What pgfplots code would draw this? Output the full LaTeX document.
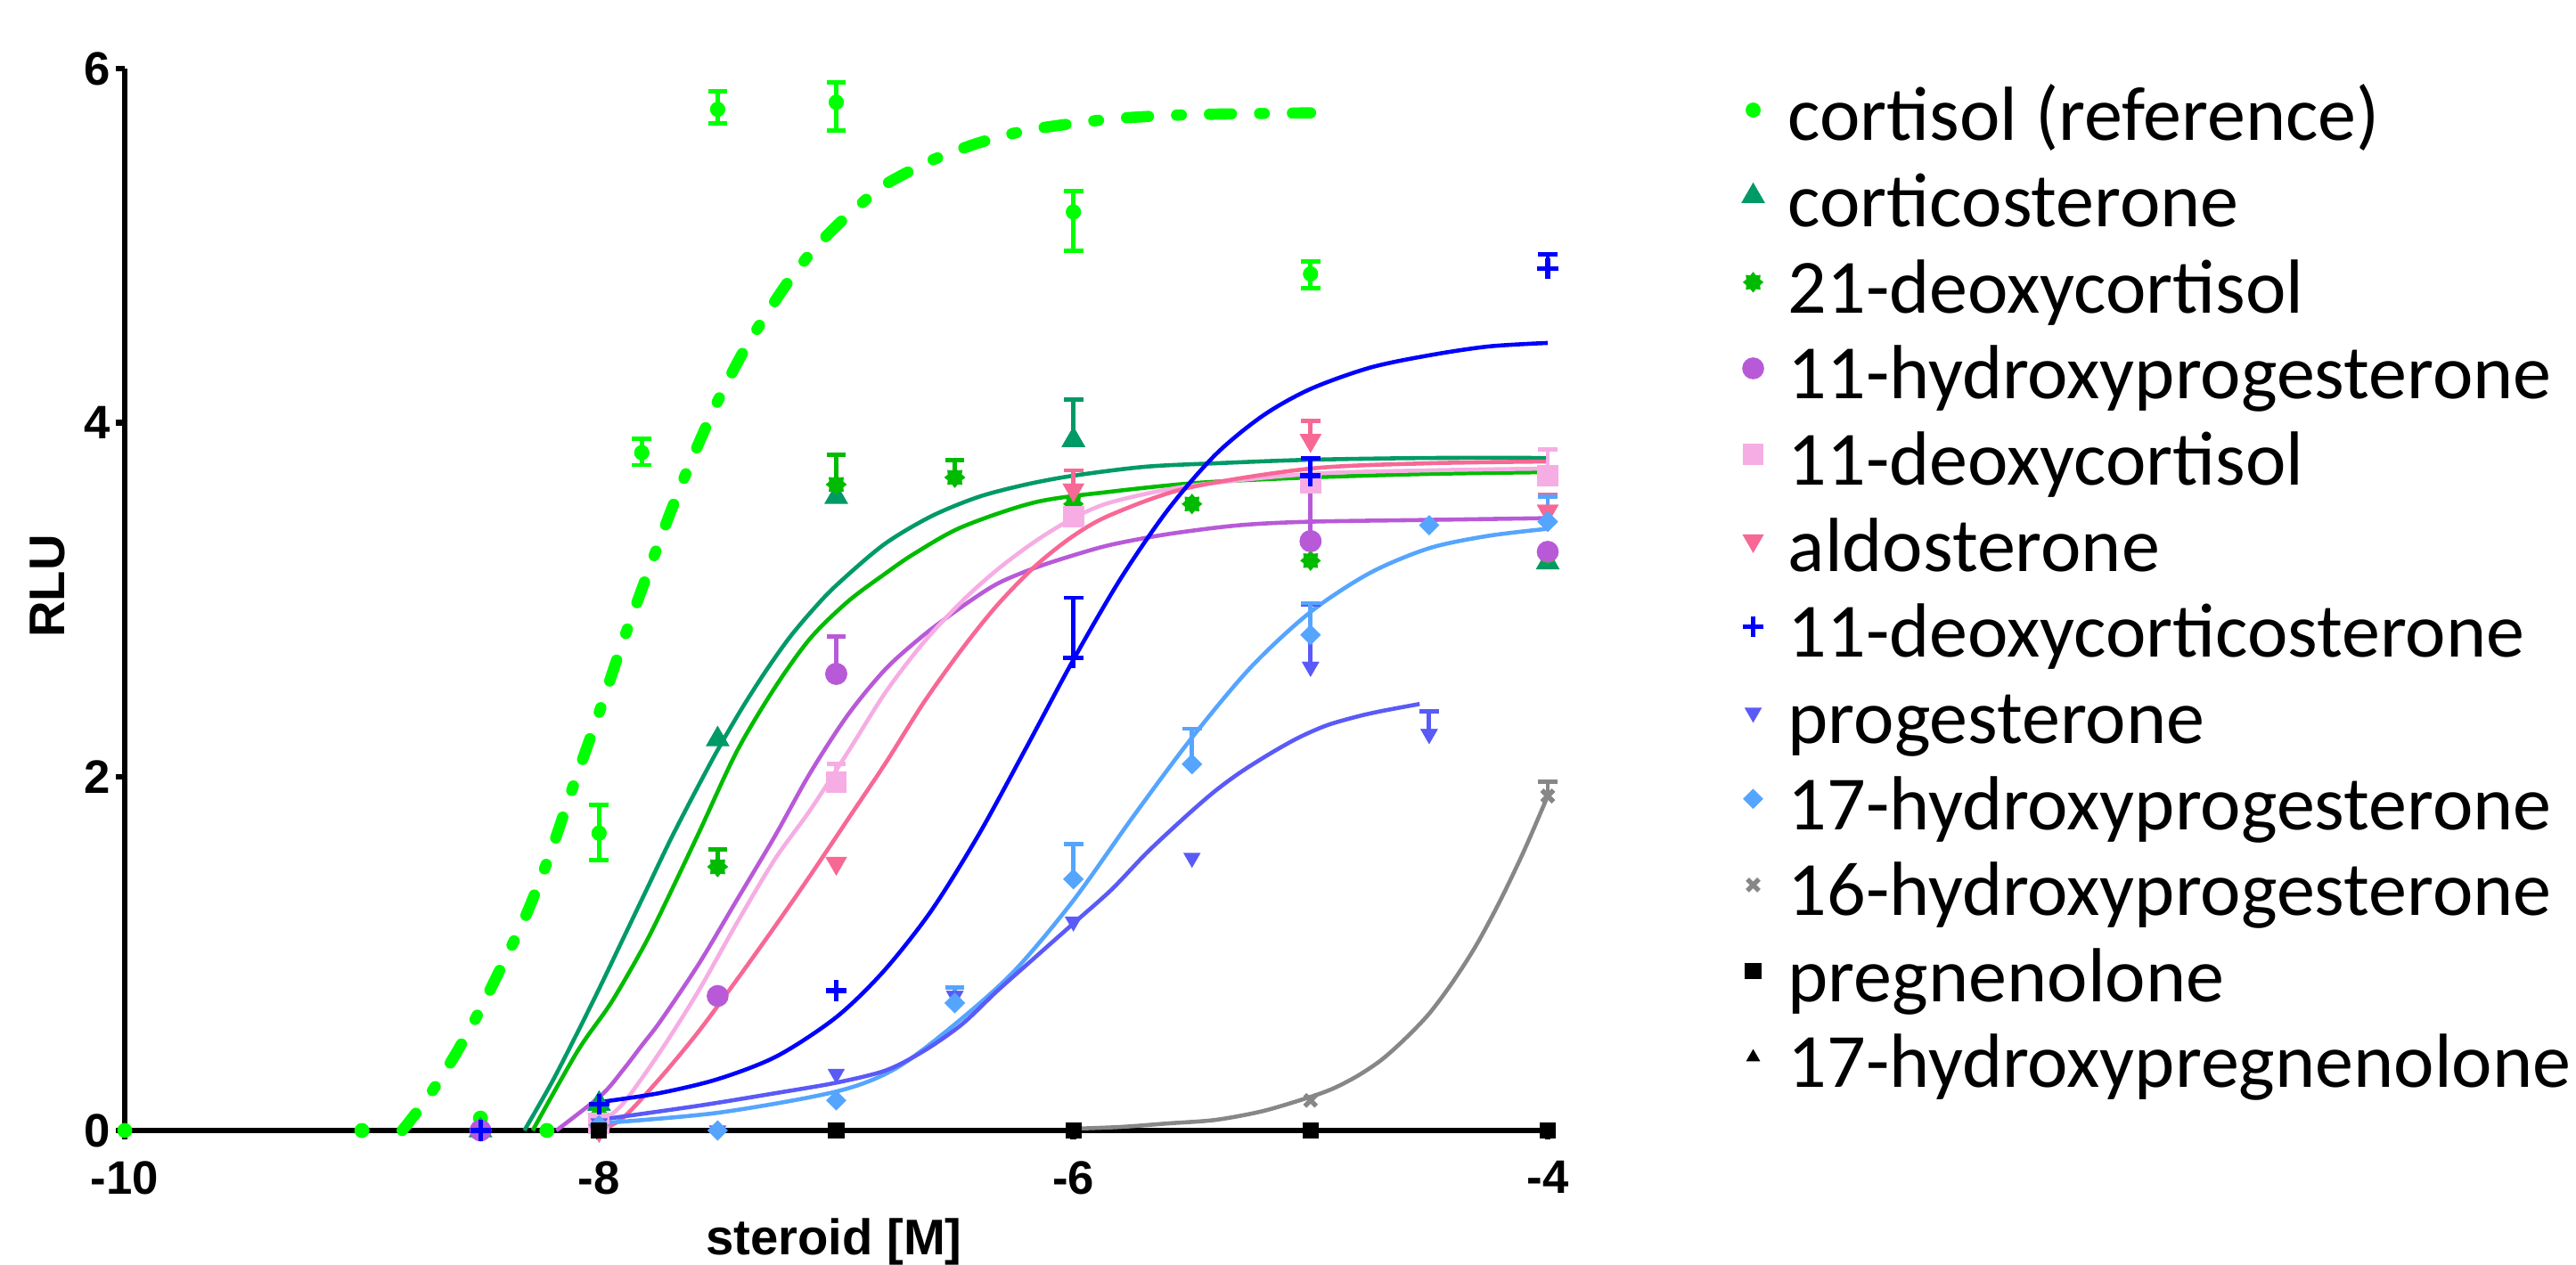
\documentclass[border=0pt]{standalone}
\usepackage{fontspec}
\setmainfont{Liberation Sans}
\newfontfamily\legfont{Carlito}
\usepackage{pgfplots}
\pgfplotsset{compat=1.18}
\usetikzlibrary{plotmarks}

\definecolor{cCort}{HTML}{00FF00}
\definecolor{cCortico}{HTML}{009A66}
\definecolor{cDeo}{HTML}{00BB00}
\definecolor{cOHPa}{HTML}{B85AD8}
\definecolor{cDC}{HTML}{F6ADE3}
\definecolor{cAldo}{HTML}{F76895}
\definecolor{cDOC}{HTML}{0000FF}
\definecolor{cProg}{HTML}{5A5AF8}
\definecolor{cOHPb}{HTML}{55A5FF}
\definecolor{cOHPc}{HTML}{878787}

% filled 8-point burst for 21-deoxycortisol
\pgfdeclareplotmark{burst}{%
  \pgfpathmoveto{\pgfpointpolar{0}{\pgfplotmarksize}}%
  \pgfpathlineto{\pgfpointpolar{22.5}{0.72\pgfplotmarksize}}%
  \pgfpathlineto{\pgfpointpolar{45}{\pgfplotmarksize}}%
  \pgfpathlineto{\pgfpointpolar{67.5}{0.72\pgfplotmarksize}}%
  \pgfpathlineto{\pgfpointpolar{90}{\pgfplotmarksize}}%
  \pgfpathlineto{\pgfpointpolar{112.5}{0.72\pgfplotmarksize}}%
  \pgfpathlineto{\pgfpointpolar{135}{\pgfplotmarksize}}%
  \pgfpathlineto{\pgfpointpolar{157.5}{0.72\pgfplotmarksize}}%
  \pgfpathlineto{\pgfpointpolar{180}{\pgfplotmarksize}}%
  \pgfpathlineto{\pgfpointpolar{202.5}{0.72\pgfplotmarksize}}%
  \pgfpathlineto{\pgfpointpolar{225}{\pgfplotmarksize}}%
  \pgfpathlineto{\pgfpointpolar{247.5}{0.72\pgfplotmarksize}}%
  \pgfpathlineto{\pgfpointpolar{270}{\pgfplotmarksize}}%
  \pgfpathlineto{\pgfpointpolar{292.5}{0.72\pgfplotmarksize}}%
  \pgfpathlineto{\pgfpointpolar{315}{\pgfplotmarksize}}%
  \pgfpathlineto{\pgfpointpolar{337.5}{0.72\pgfplotmarksize}}%
  \pgfpathclose
  \pgfusepathqfillstroke}

\pgfplotsset{
  curve/.style={no marks, smooth, line width=1.3pt, forget plot},
  pts/.style={only marks},
  errs/.style={only marks, forget plot,
    error bars/.cd, y dir=plus, y explicit,
    error bar style={line width=1.4pt},
    error mark options={rotate=90, mark size=3.1pt, line width=1.4pt}},
  sCort/.style={color=cCort, mark=*, mark size=2.2pt},
  sCortico/.style={color=cCortico, mark=triangle*, mark size=4pt},
  sDeo/.style={color=cDeo, mark=burst, mark size=3pt},
  sOHPa/.style={color=cOHPa, mark=*, mark size=3.3pt},
  sDC/.style={color=cDC, mark=square*, mark size=3.2pt},
  sAldo/.style={color=cAldo, mark=triangle*, mark size=3.6pt, mark options={rotate=180}},
  sDOC/.style={color=cDOC, mark=+, mark size=3.3pt, mark options={line width=1.5pt}},
  sProg/.style={color=cProg, mark=triangle*, mark size=2.8pt, mark options={rotate=180}},
  sOHPb/.style={color=cOHPb, mark=square*, mark size=2.1pt, mark options={rotate=45}},
  sOHPc/.style={color=cOHPc, mark=x, mark size=2.6pt, mark options={line width=1.5pt}},
  sPreg/.style={color=black, mark=square*, mark size=2.4pt},
  sOHPreg/.style={color=black, mark=triangle*, mark size=2.2pt},
}

\begin{document}
\begin{tikzpicture}
\useasboundingbox (-1.40,-1.51) rectangle (27.51,12.69);
\begin{axis}[
    at={(0,0)}, anchor=south west,
    scale only axis,
    width=15.97cm, height=11.92cm,
    xmin=-10, xmax=-4, ymin=0, ymax=6,
    axis x line*=bottom, axis y line*=left,
    axis line style={line width=1.8pt},
    xtick={-10,-8,-6,-4}, xticklabels={-10,-8,-6,-4},
    ytick={0,2,4,6}, yticklabels={0,2,4,6},
    tick align=outside, major tick length=0.1cm,
    tick style={line width=1.8pt, black},
    ticklabel style={font=\fontsize{15}{18}\selectfont\bfseries},
    xticklabel style={anchor=north, inner sep=0pt, yshift=-0.24cm},
    yticklabel style={anchor=east, inner sep=0pt, xshift=-0.05cm},
    xlabel={steroid [M]}, ylabel={RLU},
    label style={font=\fontsize{16}{19}\selectfont\bfseries},
    xlabel style={at={(axis description cs:0.4984,-0.1174)}, anchor=base},
    ylabel style={at={(axis description cs:-0.0545,0.5126)}, anchor=center},
    clip=false,
    legend cell align=left,
    legend image post style={yshift=5.5pt},
    legend style={draw=none, fill=none,
      at={(axis description cs:1.1363,0.9859)}, anchor=north west,
      inner sep=0pt, row sep=0pt, column sep=0pt,
      font=\legfont\fontsize{24.5}{28}\selectfont,
      nodes={inner xsep=7.7pt, inner ysep=0pt, text height=18pt, text depth=9.5pt}},
]

% fitted curves
\addplot[curve, color=cCortico] coordinates {
 (-8.315,0) (-8.2,0.27) (-8.1,0.53) (-8.0,0.80) (-7.9,1.08) (-7.8,1.36) (-7.7,1.64)
 (-7.6,1.90) (-7.5,2.15) (-7.4,2.38) (-7.3,2.59) (-7.2,2.78) (-7.1,2.94) (-7.0,3.08)
 (-6.8,3.31) (-6.6,3.47) (-6.4,3.58) (-6.2,3.65) (-6.0,3.70) (-5.7,3.75) (-5.4,3.77)
 (-5.0,3.79) (-4.5,3.80) (-4.0,3.80)};
\addplot[curve, color=cDeo] coordinates {
 (-8.28,0) (-8.09,0.45) (-7.95,0.72) (-7.82,1.02) (-7.74,1.23) (-7.58,1.68) (-7.42,2.14)
 (-7.26,2.50) (-7.11,2.78) (-6.95,2.99) (-6.79,3.15) (-6.67,3.26) (-6.47,3.41) (-6.16,3.55)
 (-5.84,3.61) (-5.47,3.66) (-5.0,3.69) (-4.5,3.71) (-4,3.72)};
\addplot[curve, color=cOHPa] coordinates {
 (-8.18,0) (-7.99,0.2) (-7.9,0.34) (-7.82,0.48) (-7.74,0.62) (-7.58,0.94) (-7.42,1.30)
 (-7.26,1.66) (-7.11,2.02) (-6.95,2.35) (-6.79,2.61) (-6.63,2.80) (-6.47,2.96) (-6.32,3.09)
 (-6.16,3.18) (-6.0,3.25) (-5.84,3.31) (-5.6,3.37) (-5.3,3.42) (-5.0,3.44) (-4.5,3.45) (-4,3.46)};
\addplot[curve, color=cDC] coordinates {
 (-8.0,0.04) (-7.90,0.15) (-7.74,0.45) (-7.58,0.79) (-7.42,1.17) (-7.26,1.53) (-7.11,1.81)
 (-6.95,2.14) (-6.79,2.48) (-6.63,2.76) (-6.47,2.99) (-6.32,3.17) (-6.16,3.33) (-6.0,3.46)
 (-5.84,3.55) (-5.52,3.64) (-5.0,3.71) (-4.5,3.73) (-4,3.74)};
\addplot[curve, color=cAldo] coordinates {
 (-8.0,0) (-7.90,0.07) (-7.74,0.30) (-7.58,0.56) (-7.42,0.85) (-7.26,1.15) (-7.11,1.44)
 (-6.95,1.76) (-6.79,2.08) (-6.63,2.42) (-6.47,2.72) (-6.32,2.97) (-6.16,3.19) (-6.0,3.36)
 (-5.84,3.48) (-5.52,3.63) (-5.0,3.74) (-4.5,3.77) (-4,3.78)};
\addplot[curve, color=cOHPb] coordinates {
 (-8.0,0.04) (-7.5,0.10) (-7.0,0.22) (-6.75,0.35) (-6.5,0.60) (-6.25,0.90) (-6.0,1.30)
 (-5.75,1.77) (-5.5,2.22) (-5.25,2.62) (-5.0,2.93) (-4.75,3.15) (-4.5,3.29) (-4.25,3.36)
 (-4.0,3.40)};
\addplot[curve, color=cProg] coordinates {
 (-8.0,0.06) (-7.58,0.14) (-7.26,0.21) (-7.0,0.27) (-6.79,0.34) (-6.63,0.45) (-6.47,0.60)
 (-6.32,0.79) (-6.16,0.98) (-6.0,1.17) (-5.84,1.36) (-5.69,1.57) (-5.53,1.77) (-5.41,1.91)
 (-5.3,2.02) (-5.17,2.13) (-5.05,2.22) (-4.93,2.29) (-4.8,2.34) (-4.70,2.37) (-4.54,2.41)};
\addplot[curve, color=cOHPc] coordinates {
 (-6.0,0.01) (-5.8,0.02) (-5.6,0.04) (-5.4,0.06) (-5.2,0.11) (-5.0,0.19) (-4.9,0.24)
 (-4.8,0.31) (-4.7,0.40) (-4.6,0.52) (-4.5,0.66) (-4.4,0.84) (-4.3,1.05) (-4.2,1.30)
 (-4.1,1.58) (-4.0,1.89)};
\addplot[curve, color=cDOC] coordinates {
 (-8.0,0.16) (-7.75,0.21) (-7.5,0.29) (-7.25,0.42) (-7.0,0.64) (-6.8,0.90) (-6.6,1.24)
 (-6.4,1.67) (-6.2,2.16) (-6.0,2.66) (-5.8,3.12) (-5.6,3.51) (-5.4,3.82) (-5.2,4.04)
 (-5.0,4.19) (-4.75,4.31) (-4.5,4.38) (-4.25,4.43) (-4.0,4.45)};
\addplot[no marks, smooth, forget plot, color=cCort, line width=3.6pt, line cap=round,
    dash pattern=on 7pt off 9pt on 1.5pt off 9pt] coordinates {
 (-8.83,0) (-8.72,0.19) (-8.61,0.42) (-8.51,0.66) (-8.41,0.93) (-8.31,1.21) (-8.21,1.55)
 (-8.10,1.98) (-8.0,2.36) (-7.9,2.76) (-7.8,3.13) (-7.7,3.49) (-7.6,3.82) (-7.5,4.12)
 (-7.4,4.38) (-7.3,4.60) (-7.2,4.80) (-7.1,4.97) (-7.0,5.11) (-6.9,5.23) (-6.8,5.34)
 (-6.6,5.48) (-6.4,5.58) (-6.2,5.65) (-6.0,5.69) (-5.8,5.72) (-5.5,5.74) (-5.0,5.75)};

% data points
\addplot[pts, sCort] table {
x y
-10 0
-9 0
-8.5 0.07
-8.22 0
-8 1.68
-7.82 3.83
-7.5 5.77
-7 5.81
-6 5.19
-5 4.84
};
\addplot[sCort, only marks, forget plot,
    error bars/.cd, y dir=both, y explicit,
    error bar style={line width=1.4pt},
    error mark options={rotate=90, mark size=3.1pt, line width=1.4pt}]
  table[x=x, y=y, y error plus=ep, y error minus=em] {
x y ep em
-8 1.68 0.16 0.15
-7.82 3.83 0.08 0.07
-7.5 5.77 0.10 0.08
-7 5.81 0.11 0.16
-6 5.19 0.12 0.22
-5 4.84 0.07 0.08
};

\addplot[pts, sCortico] table {
x y
-8.5 0
-8 0.15
-7.5 2.21
-7 3.58
-6 3.90
-4 3.21
};
\addplot[sCortico, errs] table[y error=e] {
x y e
-6 3.90 0.23
};

\addplot[pts, sDeo] table {
x y
-8 0.09
-7.5 1.49
-7 3.65
-6.5 3.69
-6 3.54
-5.5 3.54
-5 3.22
-4 3.25
};
\addplot[sDeo, errs] table[y error=e] {
x y e
-7.5 1.49 0.10
-7 3.65 0.17
-6.5 3.69 0.10
};

\addplot[pts, sOHPa] table {
x y
-8.5 0
-7.5 0.76
-7 2.58
-5 3.33
-4 3.27
};
\addplot[sOHPa, errs] table[y error=e] {
x y e
-7 2.58 0.21
-5 3.33 0.34
};

\addplot[pts, sDC] table {
x y
-8 0.04
-7 1.97
-6 3.47
-5 3.66
-4 3.70
};
\addplot[sDC, errs] table[y error=e] {
x y e
-7 1.97 0.10
-4 3.70 0.15
};

\addplot[pts, sAldo] table {
x y
-8 0
-7 1.51
-6 3.62
-5 3.90
-4 3.50
};
\addplot[sAldo, errs] table[y error=e] {
x y e
-6 3.62 0.11
-5 3.90 0.11
-4 3.50 0.09
};

\addplot[pts, sDOC] table {
x y
-8.5 0
-8 0.15
-7 0.79
-6 2.67
-5 3.70
-4 4.87
};
\addplot[sDOC, errs] table[y error=e] {
x y e
-6 2.67 0.34
-5 3.70 0.10
-4 4.87 0.08
};

\addplot[pts, sProg] table {
x y
-8 0.04
-7.5 0.0
-7 0.32
-6.5 0.76
-6 1.18
-5.5 1.54
-5 2.62
-4.5 2.24
};
\addplot[sProg, errs] table[y error=e] {
x y e
-6.5 0.76 0.05
-5 2.62 0.35
-4.5 2.24 0.13
};

\addplot[pts, sOHPb] table {
x y
-8 0.03
-7.5 0.0
-7 0.17
-6.5 0.72
-6 1.42
-5.5 2.07
-5 2.80
-4.5 3.42
-4 3.44
};
\addplot[sOHPb, errs] table[y error=e] {
x y e
-6.5 0.72 0.09
-6 1.42 0.20
-5.5 2.07 0.20
-5 2.80 0.18
-4 3.44 0.14
};

\addplot[pts, sOHPc] table {
x y
-8 0
-7 0
-6 0
-5 0.17
-4 1.89
};
\addplot[sOHPc, errs] table[y error=e] {
x y e
-4 1.89 0.08
};

\addplot[pts, sPreg] table {
x y
-8 0
-7 0
-6 0
-5 0
-4 0
};
\addplot[pts, sOHPreg] table {
x y
-8 0
-7 0
-6 0
-5 0
-4 0
};

\legend{cortisol (reference), corticosterone, 21-deoxycortisol,
  11-hydroxyprogesterone, 11-deoxycortisol, aldosterone,
  11-deoxycorticosterone, progesterone, 17-hydroxyprogesterone,
  16-hydroxyprogesterone, pregnenolone, 17-hydroxypregnenolone}
\end{axis}
\end{tikzpicture}
\end{document}
